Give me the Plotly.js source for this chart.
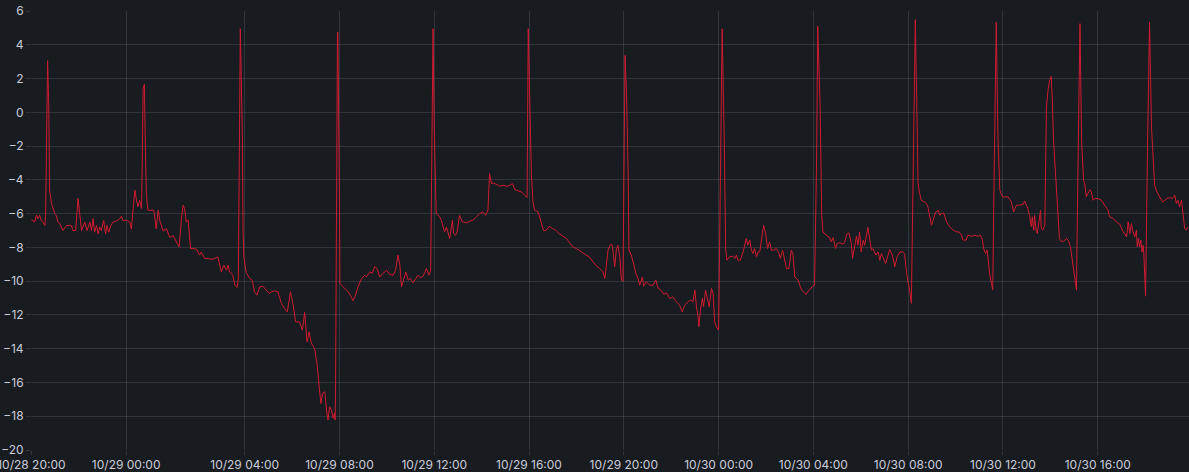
<!DOCTYPE html>
<html>
<head>
<meta charset="utf-8">
<script src="https://cdn.plot.ly/plotly-3.0.1.min.js"></script>
<style>
  html, body { margin: 0; padding: 0; background: #181b1f; overflow: hidden; }
  #chart { width: 1189px; height: 472px; }
</style>
</head>
<body>
<div id="chart"></div>
<script>
// Series start (UTC). Axis labels are local time (CEST → CET switch on 10/29).
const startUTC = Date.UTC(2023, 9, 28, 18, 0);

// Minutes after start
const minutes = [
0,8,13,17,21,25,29,34,36,41,44,46,51,59,63,67,72,80,89,101,105,112,118,122,127,135,141,148,152,156,160,165,169,173,177,183,188,191,196,201,207,215,224,228,232,241,249,253,257,262,266,270,274,279,283,286,288,291,295,304,310,316,321,325,333,342,350,359,367,374,380,384,388,392,397,403,409,418,426,430,439,447,460,472,481,487,494,498,502,510,515,521,524,529,534,536,538,544,553,559,565,571,578,586,595,602,608,616,624,633,641,648,656,662,669,679,686,692,698,703,709,717,723,728,733,737,743,748,751,755,760,764,767,769,770,775,776,780,781,785,793,802,810,814,819,827,836,844,848,857,863,869,875,882,890,899,907,916,922,928,933,937,941,948,954,960,966,973,979,985,992,1000,1007,1011,1017,1020,1025,1034,1038,1046,1051,1059,1066,1069,1074,1078,1084,1091,1101,1110,1118,1127,1135,1143,1150,1156,1160,1165,1169,1177,1186,1194,1203,1211,1218,1224,1232,1241,1249,1255,1258,1262,1266,1270,1274,1283,1291,1297,1304,1311,1319,1327,1336,1346,1355,1363,1371,1380,1388,1397,1405,1414,1422,1431,1439,1447,1452,1456,1460,1466,1471,1477,1481,1485,1490,1494,1498,1503,1507,1511,1513,1519,1525,1532,1536,1540,1547,1550,1557,1566,1574,1581,1587,1595,1601,1608,1616,1624,1633,1641,1648,1654,1663,1669,1675,1680,1684,1688,1690,1694,1699,1702,1707,1711,1716,1722,1726,1730,1734,1740,1744,1749,1754,1757,1758,1761,1768,1776,1781,1785,1789,1795,1802,1810,1814,1819,1823,1827,1831,1836,1840,1844,1848,1854,1859,1864,1869,1874,1879,1886,1893,1896,1902,1907,1912,1918,1924,1928,1933,1941,1950,1955,1961,1966,1973,1978,1983,1988,1991,1997,2001,2004,2013,2021,2025,2030,2036,2040,2047,2053,2059,2064,2070,2076,2079,2084,2089,2093,2097,2101,2106,2110,2114,2118,2123,2127,2131,2138,2144,2148,2152,2156,2163,2169,2173,2180,2186,2192,2199,2207,2211,2216,2220,2224,2228,2233,2238,2242,2245,2249,2253,2262,2266,2270,2274,2279,2283,2290,2296,2300,2304,2310,2317,2325,2334,2342,2349,2355,2359,2367,2371,2380,2388,2397,2403,2408,2411,2416,2420,2423,2426,2431,2434,2438,2443,2447,2452,2459,2467,2473,2481,2487,2494,2502,2511,2515,2519,2523,2527,2532,2534,2538,2540,2544,2547,2551,2555,2557,2561,2566,2568,2570,2574,2578,2582,2585,2588,2593,2598,2600,2603,2608,2614,2621,2625,2631,2636,2639,2642,2646,2650,2655,2659,2664,2667,2671,2675,2680,2684,2688,2692,2701,2709,2715,2722,2726,2730,2739,2747,2756,2762,2768,2773,2777,2781,2785,2789,2794,2798,2800,2803,2806,2809,2812,2815,2817,2819,2821,2826,2831,2836,2840,2844,2850,2857,2864,2870,2875,2882,2889,2895,2899,2903,2907,2912,2916,2920,2924,2928
];

// Values
const values = [
-6.35,-6.49,-6.09,-6.29,-6.1,-6.4,-6.5,-6.7,-6.1,3.06,0.4,-4.6,-5.4,-6.0,-6.1,-6.5,-6.6,-7.0,-6.7,-6.7,-7.0,-7.0,-5.1,-5.8,-7.0,-6.5,-7.0,-6.5,-7.0,-6.3,-7.1,-6.7,-7.2,-6.8,-7.0,-6.4,-7.2,-6.7,-7.1,-6.7,-6.5,-6.45,-6.3,-6.15,-6.4,-6.4,-6.5,-6.9,-5.9,-4.6,-5.2,-5.6,-5.2,-5.7,1.4,1.66,-1.24,-4.8,-5.8,-5.8,-5.8,-6.9,-5.8,-6.4,-7.0,-6.9,-7.4,-7.3,-7.7,-7.98,-6.3,-5.5,-5.7,-6.5,-6.4,-8.07,-8.07,-8.1,-8.46,-8.27,-8.66,-8.66,-8.7,-8.56,-9.45,-9.05,-9.35,-9.05,-9.45,-9.65,-10.24,-10.37,-9.84,4.95,-1.2,-7.2,-8.56,-9.5,-9.84,-9.94,-10.63,-10.83,-10.34,-10.3,-10.53,-10.73,-10.63,-10.57,-10.63,-11.32,-11.62,-11.82,-10.63,-11.32,-12.41,-12.41,-12.9,-11.85,-13.6,-13.0,-13.69,-13.98,-14.87,-16.25,-17.25,-16.65,-16.55,-17.83,-18.22,-17.44,-17.63,-18.12,-17.83,-18.22,-16.85,4.6,4.75,-5.2,-10.1,-10.24,-10.43,-10.63,-10.93,-11.16,-10.93,-10.34,-9.84,-9.65,-9.75,-9.45,-9.54,-9.15,-9.25,-9.75,-9.54,-9.35,-9.59,-9.65,-9.35,-8.46,-9.05,-10.34,-10.04,-9.45,-9.94,-9.84,-10.1,-9.84,-9.65,-9.8,-9.7,-9.25,-9.65,-9.35,4.95,-1.0,-6.0,-6.19,-6.39,-7.08,-6.79,-7.48,-6.39,-7.18,-7.28,-7.08,-6.1,-6.49,-6.55,-6.45,-6.39,-6.19,-6.0,-5.9,-6.1,-5.8,-3.63,-4.22,-4.18,-4.26,-4.38,-4.32,-4.38,-4.32,-4.22,-4.58,-4.66,-4.72,-4.91,-5.05,4.95,0,-3.63,-5.3,-5.8,-5.9,-6.49,-7.02,-6.98,-6.75,-6.88,-6.98,-7.18,-7.34,-7.48,-7.73,-7.97,-8.07,-8.2,-8.36,-8.46,-8.6,-8.86,-9.11,-9.25,-9.45,-9.84,-8.86,-8.17,-7.83,-7.87,-9.15,-8.17,-7.87,-8.56,-9.94,-10.0,3.37,1.0,-3.63,-8.17,-8.46,-9.05,-9.65,-9.84,-10.24,-9.75,-10.3,-10.04,-10.24,-10.24,-9.94,-10.43,-10.53,-10.77,-10.69,-11.02,-10.93,-11.22,-11.42,-11.82,-11.42,-11.22,-11.12,-11.22,-10.53,-11.52,-12.11,-12.7,-11.72,-11.02,-11.52,-10.53,-10.93,-11.52,-10.43,-10.73,-12.41,-12.7,-12.9,-3.0,4.95,-1.26,-6.4,-8.17,-8.76,-8.56,-8.52,-8.66,-8.46,-8.76,-8.76,-8.27,-7.48,-7.87,-7.57,-8.17,-8.36,-8.07,-8.56,-8.27,-8.27,-7.57,-6.69,-7.18,-8.07,-7.67,-8.17,-8.17,-8.07,-8.36,-8.66,-8.17,-8.76,-9.25,-9.25,-8.17,-8.36,-9.75,-9.94,-10.53,-10.63,-10.79,-10.63,-10.43,-10.3,-10.24,-3.0,5.09,0.31,-6.0,-7.08,-7.28,-7.42,-7.67,-7.42,-8.07,-7.77,-7.73,-7.81,-7.73,-7.22,-7.14,-7.77,-8.66,-7.87,-7.34,-7.87,-7.08,-8.27,-7.57,-7.87,-7.37,-6.82,-7.57,-8.17,-8.07,-8.46,-8.27,-8.76,-8.36,-8.56,-8.96,-8.46,-8.13,-8.46,-9.15,-8.56,-8.27,-8.27,-8.36,-9.55,-10.04,-10.63,-11.32,-1.5,5.49,0.12,-4.22,-4.81,-5.21,-5.31,-5.4,-5.6,-6.19,-6.69,-6.39,-5.9,-5.8,-6.1,-6.0,-5.96,-6.49,-6.79,-6.98,-7.08,-7.08,-7.28,-7.57,-7.57,-7.28,-7.34,-7.28,-7.34,-7.28,-7.57,-8.07,-8.36,-8.17,-8.96,-9.55,-10.14,-10.53,-3.0,5.34,-1.26,-4.62,-5.01,-5.01,-5.01,-5.31,-5.9,-5.5,-5.5,-5.44,-5.25,-5.5,-5.7,-6.1,-6.79,-6.19,-6.98,-6.1,-6.98,-7.18,-6.59,-5.8,-6.88,-6.98,-6.69,-3.63,0.31,1.3,1.89,2.13,0.71,-1.66,-3.63,-5.8,-6.79,-7.48,-7.67,-7.62,-7.48,-7.57,-7.97,-8.76,-9.25,-9.94,-10.53,-3.0,5.25,-1.66,-4.02,-4.22,-5.01,-4.81,-4.58,-4.72,-5.21,-5.11,-5.11,-5.21,-5.4,-5.6,-5.8,-6.19,-6.29,-6.49,-6.63,-6.98,-7.18,-7.37,-6.49,-7.18,-6.59,-7.08,-7.37,-6.98,-7.97,-7.48,-7.97,-7.57,-8.27,-7.87,-8.56,-9.75,-10.89,-2.0,5.34,-0.87,-2.84,-4.32,-4.72,-5.01,-5.31,-5.21,-5.11,-5.05,-5.11,-4.91,-5.4,-5.21,-5.6,-5.21,-6.19,-6.88,-6.98,-6.79
];

// Tick positions (UTC) and their local-time labels
const tickTimesUTC = [
'2023-10-28 18:00','2023-10-28 22:00','2023-10-29 03:00','2023-10-29 07:00',
'2023-10-29 11:00','2023-10-29 15:00','2023-10-29 19:00','2023-10-29 23:00',
'2023-10-30 03:00','2023-10-30 07:00','2023-10-30 11:00','2023-10-30 15:00'
];
const tickLabels = [
'10/28 20:00','10/29 00:00','10/29 04:00','10/29 08:00',
'10/29 12:00','10/29 16:00','10/29 20:00','10/30 00:00',
'10/30 04:00','10/30 08:00','10/30 12:00','10/30 16:00'
];
const yTicks = [-20,-18,-16,-14,-12,-10,-8,-6,-4,-2,0,2,4,6];
const xRange = ['2023-10-28 17:59', '2023-10-30 18:51'];

function toStamp(m) {
  return new Date(startUTC + m * 60000).toISOString().slice(0, 16).replace('T', ' ');
}
const times = minutes.map(toStamp);

const grid = 'rgba(204,204,220,0.15)';
const textColor = '#ccccdc';

Plotly.newPlot('chart', [{
  x: times,
  y: values,
  type: 'scatter',
  mode: 'lines',
  line: { color: '#d01a31', width: 1 },
  hoverinfo: 'skip'
}], {
  width: 1189,
  height: 472,
  paper_bgcolor: '#181b1f',
  plot_bgcolor: '#181b1f',
  margin: { l: 31, r: 0, t: 11, b: 22 },
  showlegend: false,
  font: { family: 'Inter, "Open Sans", sans-serif', size: 12, color: textColor },
  xaxis: {
    type: 'date',
    range: xRange,
    tickmode: 'array',
    tickvals: tickTimesUTC,
    ticktext: tickLabels,
    ticklabeloverflow: 'allow',
    showgrid: true,
    gridcolor: grid,
    gridwidth: 1,
    zeroline: false,
    showline: false,
    ticks: 'outside',
    ticklen: 4,
    tickcolor: grid,
    tickfont: { family: 'Inter, sans-serif', size: 12, color: textColor },
    fixedrange: true
  },
  yaxis: {
    range: [-20, 6],
    tickmode: 'array',
    tickvals: yTicks,
    ticklabeloverflow: 'allow',
    showgrid: true,
    gridcolor: grid,
    gridwidth: 1,
    zeroline: false,
    showline: false,
    ticks: 'outside',
    ticklen: 4,
    tickcolor: grid,
    tickfont: { family: 'Inter, sans-serif', size: 12, color: textColor },
    fixedrange: true
  }
}, { staticPlot: true, displayModeBar: false });
</script>
</body>
</html>
